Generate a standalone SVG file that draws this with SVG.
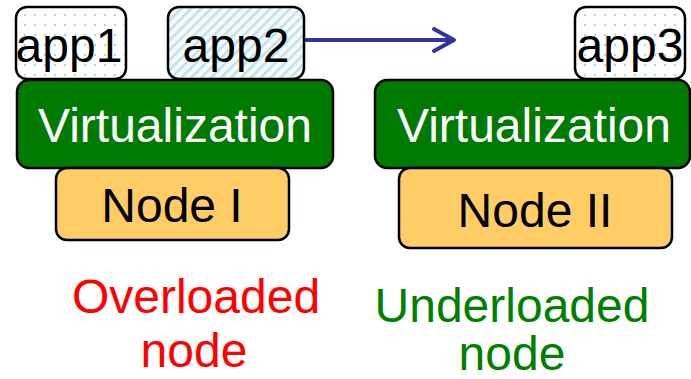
<svg xmlns="http://www.w3.org/2000/svg" width="691" height="379" viewBox="0 0 691 379">
  <style>
    text { font-family: "Liberation Sans", Arial, sans-serif; font-size: 48px; text-anchor: middle; }
    .box { stroke: #000; stroke-width: 2.5; }
    .app { fill: url(#dots); }
    .virt { fill: #007a00; }
    .virt-t { fill: #ffffff; }
    .hw { fill: #ffcc66; }
    .lbl { fill: #000; }
    .link { stroke: #333399; stroke-width: 4; fill: none; stroke-linecap: round; stroke-linejoin: round; }
  </style>
  <defs>
    <pattern id="dots" width="10" height="10" patternUnits="userSpaceOnUse">
      <rect width="10" height="10" fill="#ffffff"/>
      <circle cx="5" cy="5" r="1.2" fill="#b0d8e2"/>
    </pattern>
    <pattern id="stripes" width="7" height="7" patternUnits="userSpaceOnUse" patternTransform="rotate(45)">
      <rect width="7" height="7" fill="#f4fafc"/>
      <rect width="2.5" height="7" fill="#c0e0e8"/>
    </pattern>
  </defs>

  <!-- migration link -->
  <g id="connectors">
    <path class="link" d="M304 40 H453"/>
    <path class="link" d="M434 29 L454 40 L434 51"/>
  </g>

  <!-- host 1 -->
  <g id="virt1">
    <rect class="box virt" x="17" y="80" width="316" height="88" rx="12"/>
    <text class="virt-t" x="175" y="142">Virtualization</text>
  </g>
  <g id="node1">
    <rect class="box hw" x="56" y="168" width="233" height="72" rx="11"/>
    <text class="lbl" x="172" y="222">Node I</text>
  </g>
  <g id="app1">
    <rect class="box app" x="16" y="7" width="110" height="72" rx="11"/>
    <text class="lbl" x="69" y="62">app1</text>
  </g>
  <g id="app2">
    <rect class="box" x="168" y="7" width="136" height="72" rx="11" fill="url(#stripes)"/>
    <text class="lbl" x="236" y="62">app2</text>
  </g>

  <!-- host 2 -->
  <g id="virt2">
    <rect class="box virt" x="375" y="80" width="315" height="88" rx="12"/>
    <text class="virt-t" x="534" y="142">Virtualization</text>
  </g>
  <g id="node2">
    <rect class="box hw" x="399" y="168" width="273" height="80" rx="11"/>
    <text class="lbl" x="535" y="227">Node II</text>
  </g>
  <g id="app3">
    <rect class="box app" x="575" y="7" width="110" height="72" rx="11"/>
    <text class="lbl" x="630" y="62">app3</text>
  </g>

  <!-- captions -->
  <g id="caption1" fill="#ff0000">
    <text x="196" y="313">Overloaded</text>
    <text x="194" y="367">node</text>
  </g>
  <g id="caption2" fill="#008000">
    <text x="512" y="322">Underloaded</text>
    <text x="512" y="370">node</text>
  </g>
</svg>
